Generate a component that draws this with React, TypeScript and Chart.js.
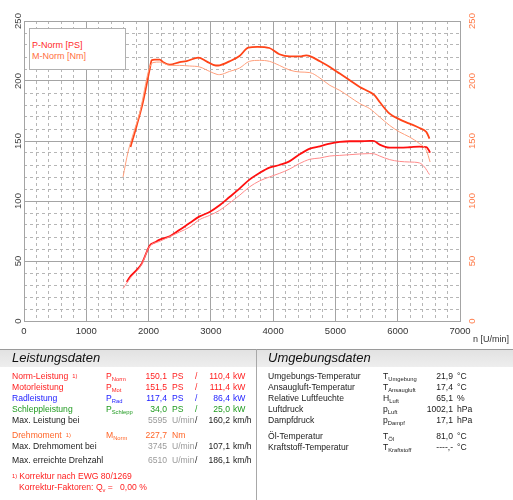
import React, { useEffect, useRef } from 'react';
import { Chart, registerables } from 'chart.js';

Chart.register(...registerables);

const FONT = '"Liberation Sans", Arial, Helvetica, sans-serif';

// ---- chart data ----
const pNormRpm = [1650, 1700, 1800, 1890, 2020, 2100, 2180, 2340, 2500, 2660, 2820, 2980, 3140, 3300, 3460, 3620, 3780, 3940, 4100, 4260, 4420, 4590, 4750, 4910, 5070, 5230, 5390, 5550, 5600, 5630, 5710, 5870, 6030, 6190, 6350, 6460, 6500, 6520];
const pNormPs = [32.5, 36.7, 42, 47.8, 63, 65.5, 67.8, 70.6, 76, 81.7, 87.2, 90.8, 96.4, 103.3, 110.3, 117.8, 123.3, 127.8, 130, 133, 138.7, 143.6, 145.6, 147.8, 149.2, 149.8, 149.8, 150.1, 150.1, 149.8, 147, 144.5, 144.5, 144.8, 145.3, 144.8, 142.2, 140.3];

const pRefRpm = [1590, 1700, 1890, 2010, 2180, 2340, 2500, 2660, 2820, 2980, 3140, 3300, 3460, 3620, 3780, 3940, 4100, 4260, 4420, 4590, 4750, 4910, 5070, 5230, 5390, 5550, 5630, 5710, 5870, 6030, 6190, 6350, 6430, 6510];
const pRefPs = [27, 35.3, 47.2, 61.7, 66.4, 70.3, 74.2, 78.3, 84.5, 88, 92.2, 98.3, 104.7, 111.7, 116.7, 120, 123, 126.5, 131.1, 134.8, 135.8, 137.5, 138, 138.6, 139.2, 139.5, 139.2, 137.5, 134.5, 133, 132.5, 131.7, 128.3, 122];

const mNormRpm = [1710, 1810, 1910, 2020, 2050, 2100, 2180, 2230, 2340, 2500, 2610, 2800, 2930, 3080, 3140, 3300, 3460, 3600, 3750, 3940, 4100, 4270, 4430, 4530, 4590, 4750, 4910, 5070, 5230, 5390, 5550, 5630, 5710, 5870, 6030, 6190, 6350, 6460, 6510];
const mNormNm = [145, 163, 182.5, 210.3, 217.2, 217.8, 217.8, 215.8, 213.6, 215.8, 216.6, 219.5, 216.4, 212.9, 213.1, 216.4, 220.8, 227.8, 228.5, 227.5, 222.3, 220.5, 220.5, 221.4, 220.8, 216.4, 211.7, 206.2, 200.6, 195, 190.8, 188, 182.5, 172.8, 168, 164.5, 160.8, 157.5, 152];

const mRefRpm = [1590, 1670, 1760, 1860, 2010, 2070, 2180, 2340, 2500, 2660, 2820, 2980, 3100, 3140, 3300, 3460, 3620, 3780, 3940, 4100, 4270, 4430, 4590, 4750, 4910, 5070, 5230, 5390, 5550, 5710, 5870, 6030, 6190, 6350, 6460, 6520];
const mRefNm = [120, 140.8, 157, 174, 210.3, 215.3, 215.8, 213, 213, 212.5, 211.7, 208, 205.5, 205.3, 208, 210.8, 216.4, 217.2, 216.4, 213, 209, 207.5, 207, 202.5, 196.4, 192.2, 186.7, 181.2, 177, 170, 163, 157.5, 153.3, 147.8, 142.2, 132.5];

const RPM_MIN = 0;
const RPM_MAX = 7000;
const RPM_MAJOR = 1000;
const RPM_MINOR = 200;
const VAL_MIN = 0;
const VAL_MAX = 250;
const VAL_MAJOR = 50;
const VAL_MINOR = 10;

const legendLabels = ['P-Norm [PS]', 'M-Norm [Nm]'];
const xAxisTitle = 'n [U/min]';

// ---- table data ----
const RED = '#ff1e1e';
const BLUE = '#2222ff';
const GREEN = '#1f9a1f';
const ORANGE = '#ff6528';
const DARK = '#222222';
const GREY = '#9a9a9a';
const TABLE_FONT = 8.6;

const powerRows = [
  { label: 'Norm-Leistung', note: '1)', sym: 'P', sub: 'Norm', val: '150,1', unit: 'PS', val2: '110,4', unit2: 'kW', color: RED, valColor: RED },
  { label: 'Motorleistung', note: '', sym: 'P', sub: 'Mot', val: '151,5', unit: 'PS', val2: '111,4', unit2: 'kW', color: RED, valColor: RED },
  { label: 'Radleistung', note: '', sym: 'P', sub: 'Rad', val: '117,4', unit: 'PS', val2: '86,4', unit2: 'kW', color: BLUE, valColor: BLUE },
  { label: 'Schleppleistung', note: '', sym: 'P', sub: 'Schlepp', val: '34,0', unit: 'PS', val2: '25,0', unit2: 'kW', color: GREEN, valColor: GREEN },
  { label: 'Max. Leistung bei', note: '', sym: '', sub: '', val: '5595', unit: 'U/min', val2: '160,2', unit2: 'km/h', color: DARK, valColor: GREY },
  { label: 'Drehmoment', note: '1)', sym: 'M', sub: 'Norm', val: '227,7', unit: 'Nm', val2: '', unit2: '', color: ORANGE, valColor: ORANGE },
  { label: 'Max. Drehmoment bei', note: '', sym: '', sub: '', val: '3745', unit: 'U/min', val2: '107,1', unit2: 'km/h', color: DARK, valColor: GREY },
  { label: 'Max. erreichte Drehzahl', note: '', sym: '', sub: '', val: '6510', unit: 'U/min', val2: '186,1', unit2: 'km/h', color: DARK, valColor: GREY },
];
const powerRowsY = [376, 387, 398, 409, 420, 435, 446, 460];

const envRows = [
  { label: 'Umgebungs-Temperatur', sym: 'T', sub: 'Umgebung', val: '21,9', unit: '°C' },
  { label: 'Ansaugluft-Temperatur', sym: 'T', sub: 'Ansaugluft', val: '17,4', unit: '°C' },
  { label: 'Relative Luftfeuchte', sym: 'H', sub: 'Luft', val: '65,1', unit: '%' },
  { label: 'Luftdruck', sym: 'p', sub: 'Luft', val: '1002,1', unit: 'hPa' },
  { label: 'Dampfdruck', sym: 'p', sub: 'Dampf', val: '17,1', unit: 'hPa' },
  { label: 'Öl-Temperatur', sym: 'T', sub: 'Öl', val: '81,0', unit: '°C' },
  { label: 'Kraftstoff-Temperatur', sym: 'T', sub: 'Kraftstoff', val: '----,-', unit: '°C' },
];
const envRowsY = [376, 387, 398, 409, 420, 436, 447];

const footnote1 = 'Korrektur nach EWG 80/1269';
const footnote2a = 'Korrektur-Faktoren: Q';
const footnote2b = 'v';
const footnote2c = ' =   0,00 %';

const pts = (xs: number[], ys: number[]) => xs.map((x, i) => ({ x, y: ys[i] }));

type TProps = {
  x: number;
  y: number;
  color?: string;
  size?: number;
  align?: 'left' | 'right' | 'center';
  italic?: boolean;
  children?: React.ReactNode;
};

function T({ x, y, color = DARK, size = TABLE_FONT, align = 'left', italic = false, children }: TProps) {
  return (
    <div
      style={{
        position: 'absolute',
        left: x,
        top: y - 6,
        height: 12,
        lineHeight: '12px',
        fontSize: size,
        color,
        whiteSpace: 'nowrap',
        fontStyle: italic ? 'italic' : 'normal',
        transform: align === 'right' ? 'translateX(-100%)' : align === 'center' ? 'translateX(-50%)' : undefined,
      }}
    >
      {children}
    </div>
  );
}

const subStyle: React.CSSProperties = { fontSize: 5.8, verticalAlign: -2, lineHeight: 0 };
const supStyle: React.CSSProperties = { fontSize: 5.8, verticalAlign: 1, lineHeight: 0, marginLeft: 4 };

const plainNumber = (v: any) => String(v);

function DynoChart() {
  const ref = useRef<HTMLCanvasElement | null>(null);
  useEffect(() => {
    if (!ref.current) return;
    const gridMajor = '#a4a4a4';
    const gridMinor = '#b6b6b6';
    const tickFont = { size: 9.5, family: FONT };
    const chart = new Chart(ref.current, {
      type: 'line',
      data: {
        datasets: [
          { label: 'P-Norm-2', data: pts(pRefRpm, pRefPs), borderColor: '#ff8a8a', borderWidth: 1, pointRadius: 0, cubicInterpolationMode: 'monotone', yAxisID: 'y', fill: false },
          { label: 'M-Norm-2', data: pts(mRefRpm, mRefNm), borderColor: '#ff9f7c', borderWidth: 1, pointRadius: 0, cubicInterpolationMode: 'monotone', yAxisID: 'y1', fill: false },
          { label: legendLabels[0], data: pts(pNormRpm, pNormPs), borderColor: '#ff1010', borderWidth: 1.8, pointRadius: 0, cubicInterpolationMode: 'monotone', yAxisID: 'y', fill: false },
          { label: legendLabels[1], data: pts(mNormRpm, mNormNm), borderColor: '#ff4418', borderWidth: 1.8, pointRadius: 0, cubicInterpolationMode: 'monotone', yAxisID: 'y1', fill: false },
        ],
      },
      options: {
        animation: false,
        responsive: true,
        maintainAspectRatio: false,
        parsing: false as any,
        layout: { padding: { top: 21, left: 0, right: 0, bottom: 0 } },
        plugins: { legend: { display: false }, tooltip: { enabled: false } },
        font: { family: FONT } as any,
        scales: {
          x: {
            type: 'linear',
            min: RPM_MIN,
            max: RPM_MAX,
            position: 'bottom',
            ticks: { stepSize: RPM_MAJOR, padding: 5, color: '#333', font: tickFont, maxRotation: 0, autoSkip: false, callback: plainNumber },
            grid: { color: gridMajor, lineWidth: 1, drawTicks: false },
            border: { color: gridMajor },
            afterFit: (s: any) => { s.height = 24; },
          },
          xMinor: {
            type: 'linear',
            min: RPM_MIN,
            max: RPM_MAX,
            position: 'bottom',
            ticks: { display: false, stepSize: RPM_MINOR, autoSkip: false },
            grid: {
              color: (c: any) => (c.tick && c.tick.value % RPM_MAJOR === 0 ? 'rgba(0,0,0,0)' : gridMinor),
              lineWidth: 1,
              drawTicks: false,
            },
            border: { display: false, dash: [3, 3] },
            afterFit: (s: any) => { s.height = 0; },
          },
          y: {
            type: 'linear',
            min: VAL_MIN,
            max: VAL_MAX,
            position: 'left',
            ticks: { stepSize: VAL_MAJOR, minRotation: 90, maxRotation: 90, crossAlign: 'center', padding: -2, color: '#444', font: tickFont, callback: plainNumber },
            grid: { color: gridMajor, lineWidth: 1, drawTicks: false },
            border: { color: gridMajor },
            afterFit: (s: any) => { s.width = 24; },
          },
          yMinor: {
            type: 'linear',
            min: VAL_MIN,
            max: VAL_MAX,
            position: 'left',
            ticks: { display: false, stepSize: VAL_MINOR },
            grid: {
              color: (c: any) => (c.tick && c.tick.value % VAL_MAJOR === 0 ? 'rgba(0,0,0,0)' : gridMinor),
              lineWidth: 1,
              drawTicks: false,
            },
            border: { display: false, dash: [3, 3] },
            afterFit: (s: any) => { s.width = 0; },
          },
          y1: {
            type: 'linear',
            min: VAL_MIN,
            max: VAL_MAX,
            position: 'right',
            ticks: { stepSize: VAL_MAJOR, minRotation: 90, maxRotation: 90, crossAlign: 'center', padding: 4, color: '#ff7a48', font: tickFont, callback: plainNumber },
            grid: { display: false, drawTicks: false },
            border: { display: false },
            afterFit: (s: any) => { s.width = 53; },
          },
        },
      } as any,
    });
    return () => chart.destroy();
  }, []);
  return (
    <div style={{ position: 'absolute', left: 0, top: 0, width: 513, height: 345 }}>
      <canvas ref={ref} style={{ display: 'block' }} />
    </div>
  );
}

export default function App() {
  return (
    <div
      style={{
        position: 'absolute',
        left: 0,
        top: 0,
        width: 513,
        height: 500,
        overflow: 'hidden',
        background: '#ffffff',
        fontFamily: FONT,
      }}
    >
      <DynoChart />

      {/* legend box */}
      <div
        style={{
          position: 'absolute',
          left: 29,
          top: 28,
          width: 97,
          height: 42,
          border: '1px solid #b0b0b0',
          background: '#ffffff',
          boxSizing: 'border-box',
        }}
      />
      <T x={32} y={44.5} size={9} color="#ff2a2a">{legendLabels[0]}</T>
      <T x={32} y={56} size={9} color="#ff6e40">{legendLabels[1]}</T>

      <T x={473} y={339} size={9} color="#333">{xAxisTitle}</T>

      {/* table header band */}
      <div
        style={{
          position: 'absolute',
          left: 0,
          top: 349,
          width: 513,
          height: 18,
          borderTop: '1px solid #9a9a9a',
          background: 'linear-gradient(#e2e2e2, #eeeeee)',
          boxSizing: 'border-box',
        }}
      />
      <div style={{ position: 'absolute', left: 256, top: 349, width: 1, height: 151, background: '#a8a8a8' }} />
      <T x={12} y={358} size={13} italic color="#111">Leistungsdaten</T>
      <T x={268} y={358} size={13} italic color="#111">Umgebungsdaten</T>

      {powerRows.map((r, i) => {
        const y = powerRowsY[i];
        return (
          <React.Fragment key={r.label}>
            <T x={12} y={y} color={r.color}>
              {r.label}
              {r.note ? <span style={supStyle}>{r.note}</span> : null}
            </T>
            {r.sym ? (
              <T x={106} y={y} color={r.color}>
                {r.sym}
                <span style={subStyle}>{r.sub}</span>
              </T>
            ) : null}
            <T x={167} y={y} align="right" color={r.valColor}>{r.val}</T>
            <T x={172} y={y} color={r.valColor}>{r.unit}</T>
            {r.val2 ? (
              <>
                <T x={195} y={y} color={r.color}>/</T>
                <T x={230} y={y} align="right" color={r.color}>{r.val2}</T>
                <T x={233} y={y} color={r.color}>{r.unit2}</T>
              </>
            ) : null}
          </React.Fragment>
        );
      })}

      <T x={12} y={476} color={RED}>
        <span style={{ fontSize: 5.8, verticalAlign: 1 }}>1)</span>
        <span style={{ marginLeft: 2 }}>{footnote1}</span>
      </T>
      <T x={19} y={487} color={RED}>
        {footnote2a}
        <span style={subStyle}>{footnote2b}</span>
        <span style={{ whiteSpace: 'pre' }}>{footnote2c}</span>
      </T>

      {envRows.map((r, i) => {
        const y = envRowsY[i];
        return (
          <React.Fragment key={r.label}>
            <T x={268} y={y}>{r.label}</T>
            <T x={383} y={y}>
              {r.sym}
              <span style={subStyle}>{r.sub}</span>
            </T>
            <T x={453} y={y} align="right">{r.val}</T>
            <T x={457} y={y}>{r.unit}</T>
          </React.Fragment>
        );
      })}
    </div>
  );
}
